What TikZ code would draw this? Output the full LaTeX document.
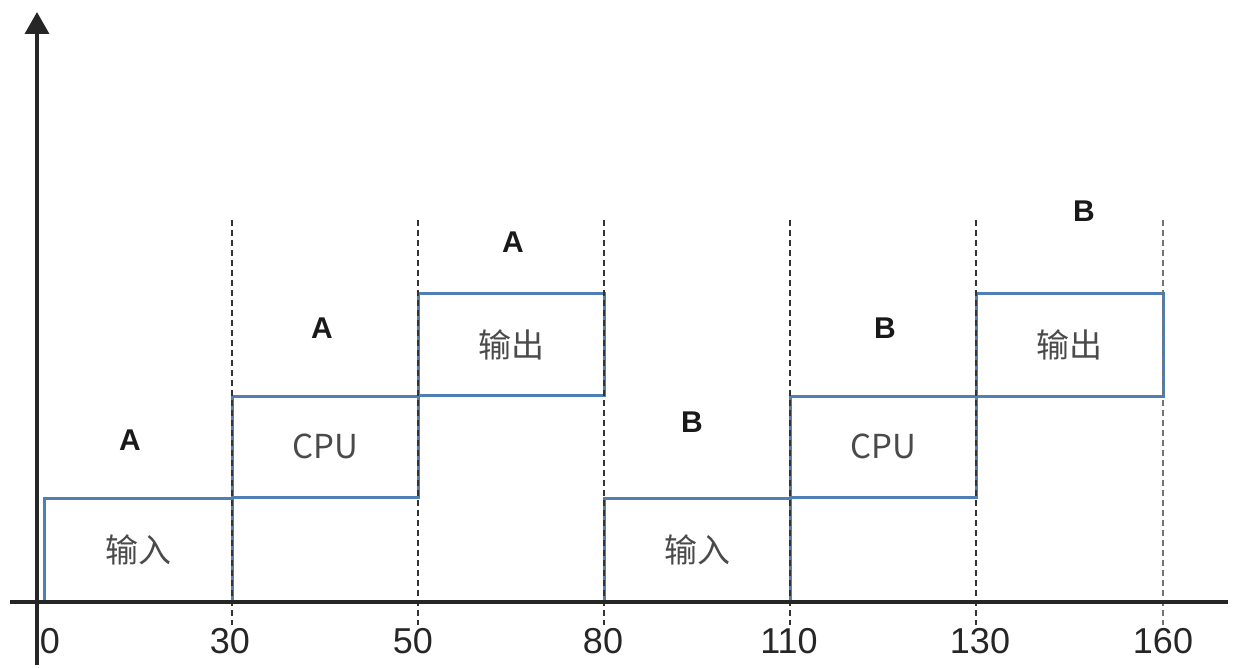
\documentclass[tikz,border=0pt]{standalone}
\usepackage{fontspec}
\setmainfont{Noto Sans CJK SC}
\newfontfamily\latinsans{Liberation Sans}
\usetikzlibrary{arrows.meta}
\definecolor{boxblue}{HTML}{4F7FB4}
\definecolor{txtgray}{HTML}{4A4A4A}
\definecolor{dashgray}{HTML}{333333}
\tikzset{
  stagebox/.style={draw=boxblue, line width=3pt, rectangle, inner sep=0pt,
    text=txtgray, font=\fontsize{33}{36}\selectfont},
  proclabel/.style={font=\latinsans\fontsize{30}{32}\selectfont\bfseries, text=black!90},
  ticklabel/.style={font=\latinsans\fontsize{36}{38}\selectfont, text=black!85},
  guide/.style={draw=dashgray, line width=2.5pt, dash pattern=on 6pt off 4pt},
  axis/.style={draw=black!85, line width=3.6pt},
}
\begin{document}
\begin{tikzpicture}[x=1pt,y=-1pt]
\useasboundingbox (0,0) rectangle (1240,668);
% stage boxes
\node[stagebox, minimum width=188pt, minimum height=104pt] (inA)  at (138,550)   {输入};
\node[stagebox, minimum width=186pt, minimum height=101pt] (cpuA) at (325,446.5) {CPU};
\node[stagebox, minimum width=186pt, minimum height=101pt] (outA) at (511,344.5) {输出};
\node[stagebox, minimum width=186pt, minimum height=104pt] (inB)  at (697,550)   {输入};
\node[stagebox, minimum width=186pt, minimum height=101pt] (cpuB) at (883,446.5) {CPU};
\node[stagebox, minimum width=187pt, minimum height=102pt] (outB) at (1069.5,345) {输出};
% dashed guides
\foreach \n/\x in {g30/232, g50/418, g80/604, g110/790, g130/976, g160/1163} {
  \coordinate (\n t) at (\x,220);
  \coordinate (\n b) at (\x,625);
}
\foreach \n in {g30, g50, g80, g110, g130} {
  \draw[guide] (\n t) -- (\n b);
}
\draw[guide, draw=black!55] (g160t) -- (g160b);
% axes
\coordinate (yb) at (37,665);
\coordinate (yt) at (37,12);
\coordinate (xl) at (10,602);
\coordinate (xr) at (1228,602);
\draw[axis, -{Triangle[width=24pt,length=22pt]}] (yb) -- (yt);
\draw[axis] (xl) -- (xr);
% process labels
\node[proclabel] (la1) at (130,440) {A};
\node[proclabel] (la2) at (322,328) {A};
\node[proclabel] (la3) at (513,242) {A};
\node[proclabel] (lb1) at (692,422) {B};
\node[proclabel] (lb2) at (885,328) {B};
\node[proclabel] (lb3) at (1084,211) {B};
% tick labels
\node[ticklabel] (t0)   at (50,641)   {0};
\node[ticklabel] (t30)  at (230,641)  {30};
\node[ticklabel] (t50)  at (413,641)  {50};
\node[ticklabel] (t80)  at (603,641)  {80};
\node[ticklabel] (t110) at (789,641)  {110};
\node[ticklabel] (t130) at (980,641)  {130};
\node[ticklabel] (t160) at (1163,641) {160};
\end{tikzpicture}
\end{document}
